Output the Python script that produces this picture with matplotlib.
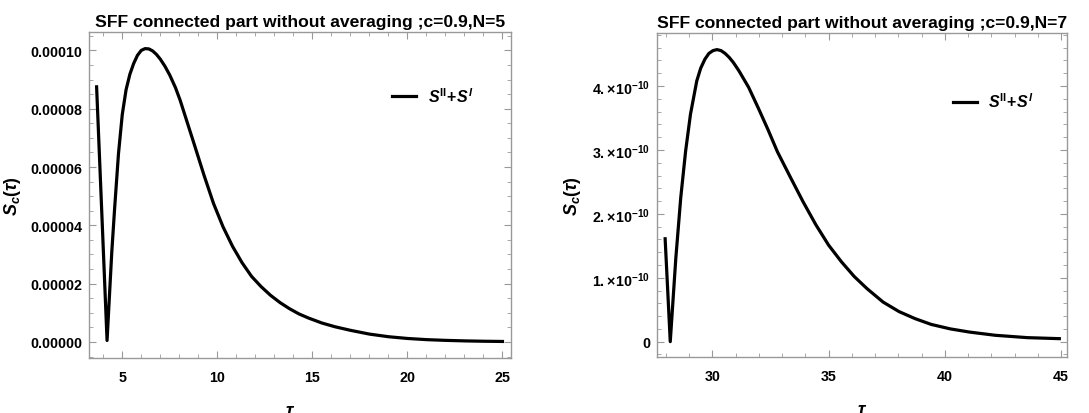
import matplotlib
matplotlib.use("Agg")
import matplotlib.pyplot as plt
from matplotlib.ticker import MultipleLocator, FuncFormatter

plt.rcParams['font.family'] = ['Liberation Sans', 'DejaVu Sans']
plt.rcParams['font.weight'] = 'bold'
plt.rcParams['mathtext.fontset'] = 'custom'
plt.rcParams['mathtext.rm'] = 'Liberation Sans:bold'
plt.rcParams['mathtext.it'] = 'Liberation Sans:bold:italic'
plt.rcParams['mathtext.bf'] = 'Liberation Sans:bold'

# N=5 panel, values (S_c in units of 1e-5)
tau5 = [3.65, 4.2, 4.45, 4.6, 4.8, 5.0, 5.2, 5.4, 5.6, 5.8, 6.0, 6.2, 6.4, 6.6,
        6.8, 7.0, 7.25, 7.5, 7.8, 8.05, 8.3, 8.8, 9.3, 9.8, 10.3, 10.8, 11.3,
        11.8, 12.3, 12.8, 13.3, 13.8, 14.3, 14.8, 15.5, 16.2, 17.0, 18.0, 19.0,
        20.0, 21.0, 22.0, 23.0, 24.0, 25.0]
sc5 = [8.75, 0.05, 3.1, 4.6, 6.45, 7.8, 8.65, 9.18, 9.55, 9.83, 10.0, 10.06, 10.05, 9.98,
       9.86, 9.7, 9.45, 9.15, 8.72, 8.28, 7.77, 6.75, 5.72, 4.75, 3.95, 3.28, 2.72,
       2.25, 1.9, 1.6, 1.35, 1.14, 0.96, 0.82, 0.65, 0.52, 0.4, 0.27, 0.18,
       0.12, 0.08, 0.055, 0.037, 0.025, 0.017]

# N=7 panel (S_c in units of 1e-10)
tau7 = [27.97, 28.19, 28.43, 28.64, 28.85, 29.06, 29.33, 29.5, 29.68, 29.85, 30.03,
        30.2, 30.37, 30.55, 30.72, 30.9, 31.14, 31.56, 31.97, 32.39, 32.8, 33.36,
        33.9, 34.45, 35.0, 35.55, 36.1, 36.65, 37.34, 38.03, 38.72, 39.41, 40.23,
        41.06, 42.16, 43.54, 44.92]
sc7 = [1.61, 0.0, 1.31, 2.25, 2.98, 3.56, 4.08, 4.28, 4.42, 4.51, 4.555,
       4.57, 4.555, 4.51, 4.45, 4.37, 4.24, 3.98, 3.66, 3.32, 2.97, 2.57,
       2.19, 1.83, 1.51, 1.25, 1.02, 0.83, 0.62, 0.47, 0.36, 0.27, 0.20,
       0.15, 0.10, 0.063, 0.047]

titles = ["SFF connected part without averaging ;c=0.9,N=5",
          "SFF connected part without averaging ;c=0.9,N=7"]
legend_label = r'$S^{\mathrm{II}}\!+\!S^{I}$'

W, H = 1089, 414
fig = plt.figure(figsize=(W / 100, H / 100), dpi=100)

def frac(l, t, r, b):
    return [l / W, 1 - b / H, (r - l) / W, (b - t) / H]

ax1 = fig.add_axes(frac(89, 33, 511, 359))
ax2 = fig.add_axes(frac(657, 34, 1067, 358))

ax1.plot(tau5, [v * 1e-5 for v in sc5], color='black', lw=2.3, label=legend_label)
ax2.plot(tau7, [v * 1e-10 for v in sc7], color='black', lw=2.3, label=legend_label)

ax1.set_xlim(3.25, 25.45)
ax1.set_ylim(-0.055e-4, 1.063e-4)
ax2.set_xlim(27.62, 45.25)
ax2.set_ylim(-0.24e-10, 4.83e-10)

ax1.xaxis.set_major_locator(MultipleLocator(5))
ax1.xaxis.set_minor_locator(MultipleLocator(1))
ax1.yaxis.set_major_locator(MultipleLocator(2e-5))
ax1.yaxis.set_minor_locator(MultipleLocator(0.5e-5))
ax1.yaxis.set_major_formatter(FuncFormatter(lambda v, p: "%.5f" % v))

ax2.xaxis.set_major_locator(MultipleLocator(5))
ax2.xaxis.set_minor_locator(MultipleLocator(1))
ax2.yaxis.set_major_locator(MultipleLocator(1e-10))
ax2.yaxis.set_minor_locator(MultipleLocator(0.2e-10))

def sci(v, p):
    k = int(round(v / 1e-10))
    if k == 0:
        return "0"
    return r'$%d.\!\times\!10^{-10}$' % k

ax2.yaxis.set_major_formatter(FuncFormatter(sci))

for ax, title, anchor in [(ax1, titles[0], (0.70, 0.806)), (ax2, titles[1], (0.702, 0.79))]:
    ax.set_title(title, fontsize=12.6, fontweight='bold', pad=4)
    ax.set_xlabel(r'$\tau$', fontsize=13, labelpad=22)
    ax.set_ylabel(r'$S_c(\tau)$', fontsize=13, labelpad=5)
    for s in ax.spines.values():
        s.set_color('#999999')
        s.set_linewidth(1.0)
    ax.tick_params(which='both', direction='in', top=True, right=True,
                   color='#999999', labelsize=10.3)
    ax.tick_params(axis='y', pad=5)
    ax.tick_params(axis='x', pad=9)
    ax.tick_params(which='major', length=5)
    ax.tick_params(which='minor', length=3)
    for lab in ax.get_xticklabels() + ax.get_yticklabels():
        lab.set_fontweight('bold')
    ax.legend(loc='center left', bbox_to_anchor=anchor, frameon=False,
              handlelength=1.5, handletextpad=0.7, borderpad=0, fontsize=11.5)

ax1.xaxis.set_label_coords(0.476, -0.135)
ax2.xaxis.set_label_coords(0.5, -0.135)
ax2.yaxis.set_label_coords(-0.18, 0.5)

fig.savefig("out.png", dpi=100)
